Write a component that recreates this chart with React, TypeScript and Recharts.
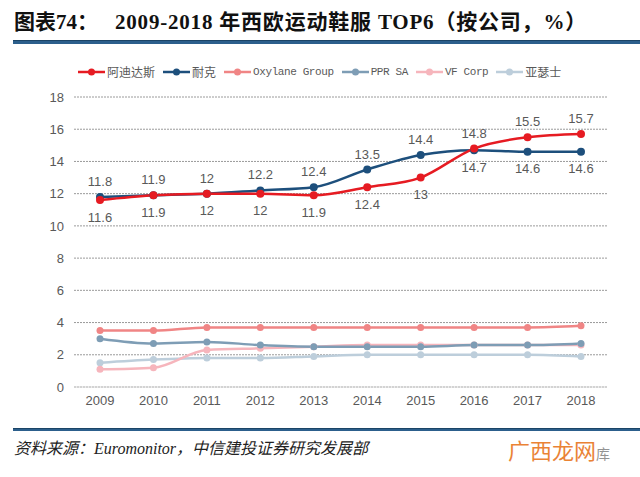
import React from "react";
import { LineChart, Line, XAxis, YAxis, CartesianGrid } from "recharts";

const years = ["2009", "2010", "2011", "2012", "2013", "2014", "2015", "2016", "2017", "2018"];
const adidas = [11.6, 11.9, 12, 12, 11.9, 12.4, 13, 14.8, 15.5, 15.7];
const nike = [11.8, 11.9, 12, 12.2, 12.4, 13.5, 14.4, 14.7, 14.6, 14.6];
const oxylane = [3.5, 3.5, 3.7, 3.7, 3.7, 3.7, 3.7, 3.7, 3.7, 3.8];
const ppr = [3.0, 2.7, 2.8, 2.6, 2.5, 2.5, 2.5, 2.6, 2.6, 2.7];
const vfCorp = [1.1, 1.2, 2.3, 2.4, 2.5, 2.6, 2.6, 2.6, 2.6, 2.6];
const asics = [1.5, 1.7, 1.8, 1.8, 1.9, 2.0, 2.0, 2.0, 2.0, 1.9];
const yTicks = [0, 2, 4, 6, 8, 10, 12, 14, 16, 18];

const series = [
    { key: "adidas", name: "阿迪达斯", color: "#E61B22" },
    { key: "nike", name: "耐克", color: "#1D4F7C" },
    { key: "oxylane", name: "Oxylane Group", color: "#F08585" },
    { key: "ppr", name: "PPR SA", color: "#7E9DB5" },
    { key: "vf", name: "VF Corp", color: "#F6B5BC" },
    { key: "asics", name: "亚瑟士", color: "#BDCEDB" },
];

const data = years.map((year, i) => ({
    year,
    adidas: adidas[i],
    nike: nike[i],
    oxylane: oxylane[i],
    ppr: ppr[i],
    vf: vfCorp[i],
    asics: asics[i],
}));

const tickStyle = { fill: "#595959", fontSize: 13, fontFamily: "'Liberation Sans', Arial, sans-serif" };

// label goes above when this series is on top at that year, below otherwise
function makeLabel(self: number[], other: number[], winsTie: boolean) {
    return (props: any) => {
        const { x, y, index, value } = props;
        const v = self[index];
        const o = other[index];
        const above = v > o || (v === o && winsTie);
        return (
            <text
                key={`lbl-${index}`}
                x={x}
                y={above ? y - 11 : y + 12}
                textAnchor="middle"
                dominantBaseline={above ? "auto" : "hanging"}
                fill="#595959"
                fontSize={13}
                fontFamily="'Liberation Sans', Arial, sans-serif"
            >
                {value}
            </text>
        );
    };
}

function LegendRow() {
    return (
        <div style={{ position: "absolute", top: 64, left: 78, display: "flex", alignItems: "center", gap: 8 }}>
            {series.map((s) => {
                const latin = /^[\x00-\x7f]+$/.test(s.name);
                return (
                    <div key={s.key} style={{ display: "flex", alignItems: "center" }}>
                        <svg width={27} height={12}>
                            <line x1={0} y1={6} x2={27} y2={6} stroke={s.color} strokeWidth={2.5} />
                            <circle cx={13.5} cy={6} r={3.5} fill={s.color} />
                        </svg>
                        <span
                            style={{
                                marginLeft: 2,
                                fontSize: latin ? 11 : 12,
                                letterSpacing: latin ? -0.4 : 0,
                                color: "#595959",
                                fontFamily: latin ? "'Liberation Mono', monospace" : "'Noto Sans CJK SC', sans-serif",
                                lineHeight: "16px",
                            }}
                        >
                            {s.name}
                        </span>
                    </div>
                );
            })}
        </div>
    );
}

const titleStyle: React.CSSProperties = {
    position: "absolute",
    top: 9,
    fontSize: 21,
    fontWeight: 700,
    color: "#111",
    fontFamily: "'Liberation Serif', 'Noto Sans CJK SC', serif",
    whiteSpace: "nowrap",
    lineHeight: "26px",
};

export default function App() {
    return (
        <div style={{ position: "absolute", left: 0, top: 0, width: 640, height: 477, background: "#fff", overflow: "hidden" }}>
            <LineChart width={640} height={477} data={data} margin={{ top: 97, right: 33, left: 34, bottom: 60 }}>
                <CartesianGrid vertical={false} stroke="#9A9A9A" strokeDasharray="2 1" />
                <XAxis
                    dataKey="year"
                    height={30}
                    padding={{ left: 26, right: 26 }}
                    tickLine={false}
                    axisLine={{ stroke: "#D9D9D9", strokeWidth: 1 }}
                    tick={tickStyle}
                    tickMargin={3}
                />
                <YAxis
                    width={40}
                    domain={[0, 18]}
                    ticks={yTicks}
                    axisLine={false}
                    tickLine={false}
                    tick={tickStyle}
                    tickMargin={4}
                />
                <Line type="monotone" dataKey="asics" stroke="#BDCEDB" strokeWidth={2.5} dot={{ r: 3.5, fill: "#BDCEDB", strokeWidth: 0 }} isAnimationActive={false} />
                <Line type="monotone" dataKey="vf" stroke="#F6B5BC" strokeWidth={2.5} dot={{ r: 3.5, fill: "#F6B5BC", strokeWidth: 0 }} isAnimationActive={false} />
                <Line type="monotone" dataKey="ppr" stroke="#7E9DB5" strokeWidth={2.5} dot={{ r: 3.5, fill: "#7E9DB5", strokeWidth: 0 }} isAnimationActive={false} />
                <Line type="monotone" dataKey="oxylane" stroke="#F08585" strokeWidth={2.5} dot={{ r: 3.5, fill: "#F08585", strokeWidth: 0 }} isAnimationActive={false} />
                <Line
                    type="monotone"
                    dataKey="nike"
                    stroke="#1D4F7C"
                    strokeWidth={2.5}
                    dot={{ r: 4, fill: "#1D4F7C", strokeWidth: 0 }}
                    label={makeLabel(nike, adidas, true)}
                    isAnimationActive={false}
                />
                <Line
                    type="monotone"
                    dataKey="adidas"
                    stroke="#E61B22"
                    strokeWidth={2.5}
                    dot={{ r: 4, fill: "#E61B22", strokeWidth: 0 }}
                    label={makeLabel(adidas, nike, false)}
                    isAnimationActive={false}
                />
            </LineChart>

            <div style={{ ...titleStyle, left: 14 }}>图表74：</div>
            <div style={{ ...titleStyle, left: 115, letterSpacing: 0.8 }}>2009-2018 年西欧运动鞋服 TOP6（按公司，%）</div>
            <div style={{ position: "absolute", top: 40, left: 13, width: 627, height: 3, background: "#2C5F8C", borderTop: "1px solid #1B4466" }} />

            <LegendRow />

            <div style={{ position: "absolute", top: 428, left: 13, width: 627, height: 2, background: "#2C5F8C", borderTop: "1px solid #1B4466" }} />
            <div
                style={{
                    position: "absolute",
                    top: 438,
                    left: 14,
                    fontSize: 16,
                    fontStyle: "italic",
                    color: "#222",
                    fontFamily: "'Liberation Serif', 'Noto Sans CJK SC', serif",
                    whiteSpace: "nowrap",
                    lineHeight: "22px",
                }}
            >
                资料来源：Euromonitor，中信建投证券研究发展部
            </div>
            <div
                style={{
                    position: "absolute",
                    top: 436,
                    left: 508,
                    fontSize: 22,
                    color: "#E8761E",
                    fontFamily: "'Noto Sans CJK SC', sans-serif",
                    whiteSpace: "nowrap",
                    lineHeight: "26px",
                    opacity: 0.9,
                }}
            >
                广西龙网<span style={{ fontSize: 14, color: "#888" }}>库</span>
            </div>
        </div>
    );
}
